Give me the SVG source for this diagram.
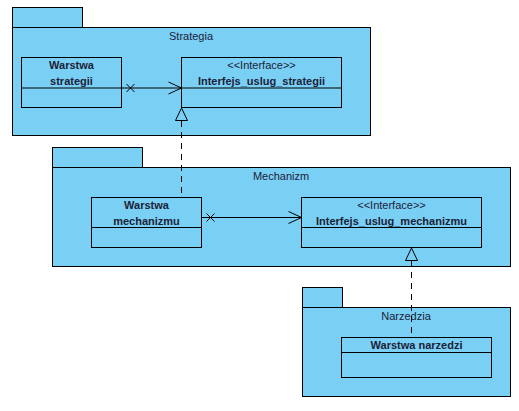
<svg xmlns="http://www.w3.org/2000/svg" width="519" height="411" viewBox="0 0 519 411">
<style>
.pkg{fill:#7acff5;stroke:#000;stroke-width:1}
.cls{fill:#7acff5;stroke:#000;stroke-width:1}
.t{font-family:"Liberation Sans",Arial,sans-serif;font-size:11px;fill:#1a2238;text-anchor:middle}
.b{font-weight:bold}
.ln{fill:none;stroke:#000;stroke-width:1}
.dash{stroke-dasharray:6,5}
.tri{fill:#7acff5;stroke:#000;stroke-width:1}
</style>
<rect width="519" height="411" fill="#fff"/>
<g id="pkg-strategia">
<rect class="pkg" x="12.5" y="7.5" width="70" height="20"/>
<rect class="pkg" x="12.5" y="27.5" width="358" height="108"/>
<text class="t" x="191" y="40">Strategia</text>
</g>
<g id="pkg-mechanizm">
<rect class="pkg" x="52.5" y="147.5" width="90" height="20"/>
<rect class="pkg" x="52.5" y="167.5" width="458" height="99"/>
<text class="t" x="281" y="180">Mechanizm</text>
</g>
<g id="pkg-narzedzia">
<rect class="pkg" x="302.5" y="287.5" width="40" height="20"/>
<rect class="pkg" x="302.5" y="307.5" width="208" height="89"/>
<text class="t" x="406" y="320">Narzedzia</text>
</g>
<g id="warstwa-strategii">
<rect class="cls" x="21.5" y="57.5" width="100" height="50"/>
<line class="ln" x1="21.5" y1="88" x2="121.5" y2="88"/>
<text class="t b" x="71.5" y="69">Warstwa</text>
<text class="t b" x="71.5" y="85">strategii</text>
</g>
<g id="interfejs-strategii">
<rect class="cls" x="181.5" y="57.5" width="160" height="50"/>
<line class="ln" x1="181.5" y1="88" x2="341.5" y2="88"/>
<text class="t" x="261.5" y="69">&lt;&lt;Interface&gt;&gt;</text>
<text class="t b" x="261.5" y="85">Interfejs_uslug_strategii</text>
</g>
<g id="warstwa-mechanizmu">
<rect class="cls" x="91.5" y="197.5" width="110" height="50"/>
<line class="ln" x1="91.5" y1="227.5" x2="201.5" y2="227.5"/>
<text class="t b" x="146.5" y="209">Warstwa</text>
<text class="t b" x="146.5" y="225">mechanizmu</text>
</g>
<g id="interfejs-mechanizmu">
<rect class="cls" x="301.5" y="197.5" width="180" height="50"/>
<line class="ln" x1="301.5" y1="227.5" x2="481.5" y2="227.5"/>
<text class="t" x="391.5" y="209">&lt;&lt;Interface&gt;&gt;</text>
<text class="t b" x="391.5" y="225">Interfejs_uslug_mechanizmu</text>
</g>
<g id="warstwa-narzedzi">
<rect class="cls" x="341.5" y="337.5" width="150" height="40"/>
<line class="ln" x1="341.5" y1="352.5" x2="491.5" y2="352.5"/>
<text class="t b" x="416.5" y="349">Warstwa narzedzi</text>
</g>
<g id="connectors">
<line class="ln" x1="121.5" y1="88" x2="181.5" y2="88"/>
<path class="ln" d="M126.5,84 L134.5,92 M134.5,84 L126.5,92"/>
<path class="ln" d="M168.5,82 L181.5,88 L168.5,94"/>
<line class="ln dash" x1="181.5" y1="121" x2="181.5" y2="197"/>
<path class="tri" d="M181.5,108 L187.5,120.5 L175.5,120.5 Z"/>
<line class="ln" x1="201.5" y1="217.5" x2="301.5" y2="217.5"/>
<path class="ln" d="M206.5,213.5 L214.5,221.5 M214.5,213.5 L206.5,221.5"/>
<path class="ln" d="M288.5,211.5 L301.5,217.5 L288.5,223.5"/>
<line class="ln dash" x1="411.5" y1="261" x2="411.5" y2="337"/>
<path class="tri" d="M411.5,248 L417.5,260.5 L405.5,260.5 Z"/>
</g>
</svg>
